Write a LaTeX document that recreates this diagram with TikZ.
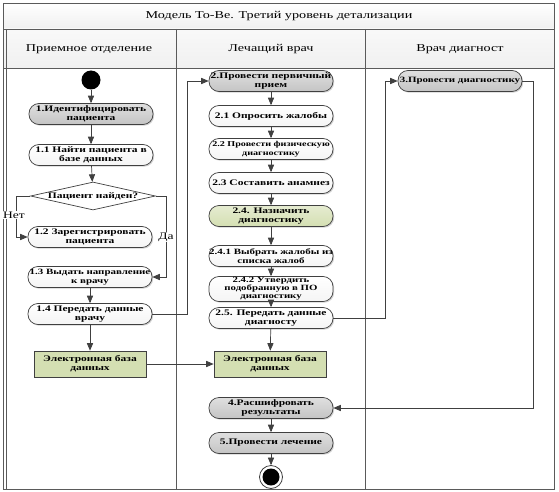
\documentclass[tikz,border=0pt]{standalone}
\usepackage{fontspec}
\setmainfont[FakeStretch=1.35]{Liberation Serif}
\usetikzlibrary{shapes,arrows,positioning,shadows}
\definecolor{linegray}{HTML}{404040}
\definecolor{framegray}{HTML}{5A5A5A}
\definecolor{actgray}{HTML}{C4C4C4}
\definecolor{dbgreen}{HTML}{D4DFB2}

\begin{document}
\begin{tikzpicture}[x=1pt,y=-1pt,
    act/.style={rectangle, rounded corners=10pt, draw=linegray, line width=0.7pt,
      top color=white, bottom color=gray!8,
      font=\bfseries\fontsize{8.5}{9}\selectfont, align=center,
      minimum width=124pt, minimum height=21pt, inner xsep=0pt, inner ysep=1pt,
      drop shadow={shadow xshift=1.2pt, shadow yshift=-1.2pt, fill=black!35}},
    mainact/.style={act, top color=gray!25, bottom color=actgray},
    greenact/.style={act, top color=dbgreen!60, bottom color=dbgreen},
    narrow/.style={font=\bfseries\fontsize{8.1}{9}\selectfont},
    dbbox/.style={rectangle, draw=linegray, line width=0.7pt, fill=dbgreen,
      font=\bfseries\fontsize{8.5}{9}\selectfont, align=center,
      minimum width=112pt, minimum height=26pt, inner sep=1pt,
      drop shadow={shadow xshift=1.2pt, shadow yshift=-1.2pt, fill=black!35}},
    decide/.style={diamond, draw=linegray, line width=0.7pt, fill=white, aspect=4.5,
      font=\bfseries\fontsize{8.5}{9}\selectfont,
      minimum width=125pt, minimum height=28pt, inner sep=0pt},
    flow/.style={draw=linegray, line width=0.7pt, -triangle 45},
    lbl/.style={fill=white, inner sep=1pt, font=\fontsize{10}{11}\selectfont},
    head/.style={font=\fontsize{10.5}{12}\selectfont}
  ]
  \useasboundingbox (0,0) rectangle (559,492);
  % swimlanes
  \shade[top color=white, bottom color=gray!12] (3,3) rectangle (554,29);
  \shade[top color=gray!5, bottom color=gray!12] (3,29) rectangle (554,68);
  \draw[framegray, thick] (3,3) rectangle (554,489);
  \draw[framegray, thick] (3,29) -- (554,29) (3,68) -- (554,68)
    (6.5,29) -- (6.5,489) (176.5,29) -- (176.5,489) (365.5,29) -- (365.5,489);
  \node[head] (title) at (279,16) {Модель То-Ве. Третий уровень детализации};
  \node[head] (lane1) at (89,49) {Приемное отделение};
  \node[head] (lane2) at (271,49) {Лечащий врач};
  \node[head] (lane3) at (460,49) {Врач диагност};

  % lane 1
  \node[circle, fill=black, minimum size=19pt, inner sep=0pt] (start) at (91,80) {};
  \node[mainact] (ident) at (91,114) {1.Идентифицировать\\пациента};
  \node[act] (find) at (91,155) {1.1 Найти пациента в\\базе данных};
  \node[decide] (found) at (93,196) {Пациент найден?};
  \node[act] (reg) at (90,237) {1.2 Зарегистрировать\\пациента};
  \node[act, narrow] (refer) at (90,277) {1.3 Выдать направление\\к врачу};
  \node[act] (send) at (90,314) {1.4 Передать данные\\врачу};
  \node[dbbox] (db1) at (90,364) {Электронная база\\данных};

  % lane 2
  \node[mainact] (prim) at (271,81) {2.Провести первичный\\прием};
  \node[act] (compl) at (271,116) {2.1 Опросить жалобы};
  \node[act, font=\bfseries\fontsize{7.5}{8.5}\selectfont] (phys) at (271,149) {2.2 Провести физическую\\диагностику};
  \node[act] (anam) at (271,183) {2.3 Составить анамнез};
  \node[greenact] (assign) at (271,216) {2.4. Назначить\\диагностику};
  \node[act, narrow] (choose) at (271,256) {2.4.1 Выбрать жалобы из\\списка жалоб};
  \node[act, font=\bfseries\fontsize{8}{8}\selectfont] (approve) at (271,289) {2.4.2 Утвердить\\подобранную в ПО\\диагностику};
  \node[act] (pass) at (271,318) {2.5. Передать данные\\диагносту};
  \node[dbbox] (db2) at (270,364) {Электронная база\\данных};
  \node[mainact] (decode) at (271,408) {4.Расшифровать\\результаты};
  \node[mainact] (treat) at (271,443) {5.Провести лечение};
  \node[circle, draw=linegray, thick, fill=white, minimum size=23pt, inner sep=0pt] (stop) at (271,477) {};
  \node[circle, fill=black, minimum size=17pt, inner sep=0pt] (stopin) at (stop) {};

  % lane 3
  \node[mainact, narrow] (diag) at (460,81) {3.Провести диагностику};

  \draw[flow] (start) -- (ident);
  \draw[flow] (ident) -- (find);
  \draw[flow] (find) -- (found);
  \draw[flow] (found.west) -- (16,196) -- (16,237) -- (reg.west);
  \draw[flow] (found.east) -- (166,196) -- (166,277) -- (refer.east);
  \node[lbl] (no) at (14,215) {Нет};
  \node[lbl] (yes) at (166,237) {Да};
  \draw[flow] (refer) -- (send);
  \draw[flow] (send) -- (db1);
  \draw[flow] (send.east) -- (187,314) |- (prim.west);
  \draw[flow] (db1) -- (db2);
  \draw[flow] (prim) -- (compl);
  \draw[flow] (compl) -- (phys);
  \draw[flow] (phys) -- (anam);
  \draw[flow] (anam) -- (assign);
  \draw[flow] (assign) -- (choose);
  \draw[flow] (choose) -- (approve);
  \draw[flow] (approve) -- (pass);
  \draw[flow] (pass) -- (db2);
  \draw[flow] (pass.east) -- (385,318) |- (diag.west);
  \draw[flow] (diag.east) -- (533,81) |- (decode.east);
  \draw[flow] (decode) -- (treat);
  \draw[flow] (treat) -- (stop);
\end{tikzpicture}
\end{document}
